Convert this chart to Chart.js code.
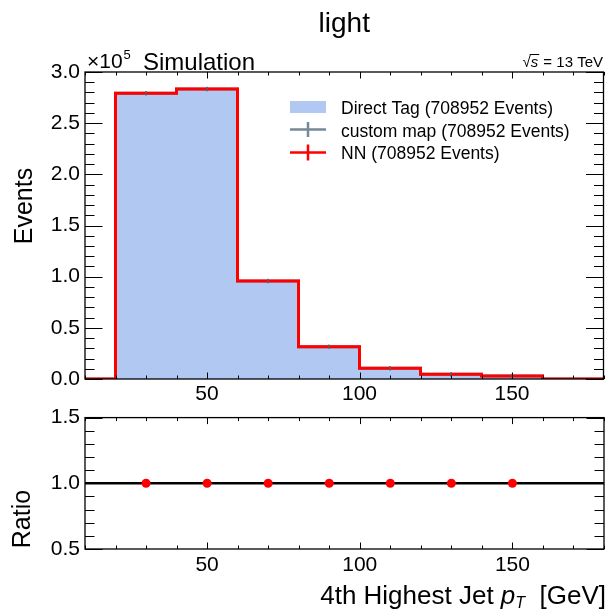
<!DOCTYPE html>
<html>
<head>
<meta charset="utf-8">
<title>light</title>
<script src="https://cdn.jsdelivr.net/npm/chart.js@4.4.0/dist/chart.umd.min.js"></script>
<style>
  html, body { margin: 0; padding: 0; background: #fff; }
  #wrap { position: relative; width: 609px; height: 614px; }
  #mainCanvas { position: absolute; left: 0; top: 0; }
  #ratioCanvas { position: absolute; left: 0; top: 400px; }
</style>
</head>
<body>
<div id="wrap">
  <canvas id="mainCanvas" width="609" height="400"></canvas>
  <canvas id="ratioCanvas" width="609" height="214"></canvas>
</div>
<script>
// ---------- data ----------
const binEdges = [20, 40, 60, 80, 100, 120, 140, 160];
const binCenters = [30, 50, 70, 90, 110, 130, 150];
const directTag = [279200, 283400, 95800, 31600, 10500, 4600, 2900];
const customMap = [279200, 283400, 95800, 31600, 10500, 4600, 2900];
const nnCounts = [279200, 283400, 95800, 31600, 10500, 4600, 2900];
const ratioValues = [1.0, 1.0, 1.0, 1.0, 1.0, 1.0, 1.0];

const xRange = [10, 180];
const xTicks = [50, 100, 150];
const yTicksMain = [0, 50000, 100000, 150000, 200000, 250000, 300000];
const yTicksRatio = [0.5, 1.0, 1.5];
const seriesLabels = ["Direct Tag (708952 Events)", "custom map (708952 Events)", "NN (708952 Events)"];

const FONT = '"Liberation Sans", Arial, Helvetica, sans-serif';
const BLUE = "#b1c9f2";
const GRAY = "#778899";
const RED = "#ff0000";

Chart.defaults.color = "#000";
Chart.defaults.font.family = FONT;

// histogram outline: up at the left edge, flat over the bin, down after the last one
function histPoints(counts) {
    const pts = [{ x: xRange[0], y: 0 }, { x: binEdges[0], y: 0 }];
    counts.forEach((c, i) => {
        pts.push({ x: binEdges[i], y: c });
        pts.push({ x: binEdges[i + 1], y: c });
    });
    pts.push({ x: binEdges[binEdges.length - 1], y: 0 });
    pts.push({ x: xRange[1], y: 0 });
    return pts;
}

function fixedTicks(values) {
    return scale => { scale.ticks = values.map(v => ({ value: v })); };
}

// ---------- frame + inward ticks on all four sides ----------
const frameTicks = {
    id: "frameTicks",
    afterDatasetsDraw(chart, args, opts) {
        const { ctx, chartArea: a, scales } = chart;
        const xs = scales.x, ys = scales.y;
        ctx.save();
        ctx.strokeStyle = "#000";
        ctx.lineWidth = 1;

        const xMinor = [];
        for (let v = xRange[0]; v <= xRange[1] + 1e-9; v += opts.xMinorStep) xMinor.push(v);
        const yMinor = [];
        for (let v = ys.min; v <= ys.max + 1e-9; v += opts.yMinorStep) yMinor.push(v);

        ctx.beginPath();
        const xTick = (v, len) => {
            const px = Math.round(xs.getPixelForValue(v)) + 0.5;
            ctx.moveTo(px, a.bottom); ctx.lineTo(px, a.bottom - len);
            ctx.moveTo(px, a.top); ctx.lineTo(px, a.top + len);
        };
        const yTick = (v, len) => {
            const py = Math.round(ys.getPixelForValue(v)) + 0.5;
            ctx.moveTo(a.left, py); ctx.lineTo(a.left + len, py);
            ctx.moveTo(a.right, py); ctx.lineTo(a.right - len, py);
        };
        xMinor.forEach(v => xTick(v, 3.5));
        xs.ticks.forEach(t => xTick(t.value, 6.5));
        yMinor.forEach(v => yTick(v, 9.5));
        ys.ticks.forEach(t => yTick(t.value, 17.5));
        ctx.stroke();

        ctx.lineWidth = 1.3;
        ctx.strokeRect(a.left, a.top, a.right - a.left, a.bottom - a.top);
        ctx.restore();
    }
};

// ---------- texts and legend of the upper panel ----------
const mainTexts = {
    id: "mainTexts",
    afterDraw(chart) {
        const { ctx, chartArea: a } = chart;
        ctx.save();
        ctx.fillStyle = "#000";
        ctx.textBaseline = "alphabetic";

        ctx.font = "28px " + FONT;
        ctx.textAlign = "center";
        ctx.fillText("light", (a.left + a.right) / 2, 32);

        ctx.textAlign = "left";
        ctx.font = "21px " + FONT;
        ctx.fillText("\u00d710", 87, 67.5);
        const w10 = ctx.measureText("\u00d710").width;
        ctx.font = "13px " + FONT;
        ctx.fillText("5", 87 + w10 + 1, 58.5);

        ctx.font = "24px " + FONT;
        ctx.fillText("Simulation", 143, 69.5);

        // sqrt(s) = 13 TeV, right aligned
        ctx.font = "15px " + FONT;
        const tail = " = 13 TeV";
        let x = 603 - ctx.measureText(tail).width;
        ctx.fillText(tail, x, 67);
        ctx.font = "italic 15px " + FONT;
        const ws = ctx.measureText("s").width;
        x -= ws + 1;
        ctx.fillText("s", x, 67);
        ctx.fillRect(x - 1, 54, ws + 2, 1);
        ctx.font = "15px " + FONT;
        x -= ctx.measureText("\u221a").width;
        ctx.fillText("\u221a", x, 67);

        // legend
        ctx.font = "17.5px " + FONT;
        const ds = chart.data.datasets;
        ctx.fillStyle = BLUE;
        ctx.fillRect(290, 101, 36, 12);
        ctx.lineWidth = 2.5;
        ctx.strokeStyle = GRAY;
        ctx.beginPath();
        ctx.moveTo(290, 129.5); ctx.lineTo(326, 129.5);
        ctx.moveTo(308, 122); ctx.lineTo(308, 137);
        ctx.stroke();
        ctx.strokeStyle = RED;
        ctx.beginPath();
        ctx.moveTo(290, 152.5); ctx.lineTo(326, 152.5);
        ctx.moveTo(308, 144.5); ctx.lineTo(308, 160.5);
        ctx.stroke();
        ctx.fillStyle = "#000";
        ctx.fillText(ds[0].label, 341, 114);
        ctx.fillText(ds[1].label, 341, 136.5);
        ctx.fillText(ds[2].label, 341, 158.5);

        // y title
        ctx.font = "25px " + FONT;
        ctx.translate(32, 206);
        ctx.rotate(-Math.PI / 2);
        ctx.textAlign = "center";
        ctx.fillText("Events", 0, 0);
        ctx.restore();
    }
};

// ---------- texts of the ratio panel ----------
const ratioTexts = {
    id: "ratioTexts",
    afterDraw(chart) {
        const { ctx } = chart;
        ctx.save();
        ctx.fillStyle = "#000";
        ctx.textBaseline = "alphabetic";

        // x title: 4th Highest Jet p_T [GeV], right aligned
        const base = 204;
        const parts = [
            { t: "4th Highest Jet ", f: "26px " + FONT, dy: 0 },
            { t: "p", f: "italic 26px " + FONT, dy: 0 },
            { t: "T", f: "italic 16px " + FONT, dy: 4 },
            { t: "  [GeV]", f: "26px " + FONT, dy: 0 }
        ];
        let total = 0;
        parts.forEach(p => { ctx.font = p.f; p.w = ctx.measureText(p.t).width; total += p.w; });
        let x = 606 - total;
        ctx.textAlign = "left";
        parts.forEach(p => { ctx.font = p.f; ctx.fillText(p.t, x, base + p.dy); x += p.w; });

        ctx.font = "25px " + FONT;
        ctx.translate(30, 119);
        ctx.rotate(-Math.PI / 2);
        ctx.textAlign = "center";
        ctx.fillText("Ratio", 0, 0);
        ctx.restore();
    }
};

// ---------- upper panel: histograms ----------
// lower "order" is drawn on top
const mainChart = new Chart(document.getElementById("mainCanvas"), {
    type: "line",
    data: {
        datasets: [
            {
                label: seriesLabels[0],
                data: histPoints(directTag),
                fill: "origin",
                backgroundColor: BLUE,
                borderWidth: 0,
                pointRadius: 0,
                order: 4
            },
            {
                label: seriesLabels[1],
                data: histPoints(customMap),
                borderColor: GRAY,
                borderWidth: 3,
                pointRadius: 0,
                order: 3
            },
            {
                label: seriesLabels[2],
                data: histPoints(nnCounts),
                borderColor: RED,
                borderWidth: 3,
                pointRadius: 0,
                order: 2
            },
            {
                label: "custom map errors",
                data: binCenters.map((c, i) => ({ x: c, y: customMap[i] })),
                showLine: false,
                pointStyle: "line",
                rotation: 90,
                pointRadius: 2.2,
                borderColor: "#556070",
                borderWidth: 1.5,
                order: 1
            }
        ]
    },
    options: {
        responsive: false,
        animation: false,
        layout: { padding: { top: 72, right: 5, left: 0, bottom: 0 } },
        plugins: {
            legend: { display: false },
            tooltip: { enabled: false },
            frameTicks: { xMinorStep: 10, yMinorStep: 10000 }
        },
        scales: {
            x: {
                type: "linear",
                min: xRange[0],
                max: xRange[1],
                grid: { display: false, drawTicks: false },
                border: { display: false },
                afterBuildTicks: fixedTicks(xTicks),
                afterFit: s => { s.height = 21; },
                ticks: { font: { size: 21 }, padding: 3, maxRotation: 0 }
            },
            y: {
                min: 0,
                max: 300000,
                grid: { display: false, drawTicks: false },
                border: { display: false },
                afterBuildTicks: fixedTicks(yTicksMain),
                afterFit: s => { s.width = 85; },
                ticks: {
                    font: { size: 21 },
                    padding: 5,
                    callback: v => (v / 1e5).toFixed(1)
                }
            }
        }
    },
    plugins: [frameTicks, mainTexts]
});

// ---------- lower panel: ratio ----------
const ratioChart = new Chart(document.getElementById("ratioCanvas"), {
    type: "line",
    data: {
        datasets: [
            {
                label: "unity",
                data: xRange.map(x => ({ x: x, y: 1.0 })),
                borderColor: "#000",
                borderWidth: 2.5,
                pointRadius: 0,
                order: 2
            },
            {
                label: "NN / Direct Tag",
                data: binCenters.map((c, i) => ({ x: c, y: ratioValues[i] })),
                showLine: false,
                pointRadius: 4.5,
                pointBackgroundColor: RED,
                pointBorderColor: RED,
                pointBorderWidth: 0,
                order: 1
            }
        ]
    },
    options: {
        responsive: false,
        animation: false,
        layout: { padding: { top: 13, right: 5, left: 0, bottom: 0 } },
        plugins: {
            legend: { display: false },
            tooltip: { enabled: false },
            frameTicks: { xMinorStep: 10, yMinorStep: 0.1 }
        },
        scales: {
            x: {
                type: "linear",
                min: xRange[0],
                max: xRange[1],
                grid: { display: false, drawTicks: false },
                border: { display: false },
                afterBuildTicks: fixedTicks(xTicks),
                afterFit: s => { s.height = 65; },
                ticks: { font: { size: 21 }, padding: 4, maxRotation: 0 }
            },
            y: {
                min: 0.5,
                max: 1.5,
                grid: { display: false, drawTicks: false },
                border: { display: false },
                afterBuildTicks: fixedTicks(yTicksRatio),
                afterFit: s => { s.width = 85; },
                ticks: {
                    font: { size: 21 },
                    padding: 5,
                    callback: v => v.toFixed(1)
                }
            }
        }
    },
    plugins: [frameTicks, ratioTexts]
});
</script>
</body>
</html>
